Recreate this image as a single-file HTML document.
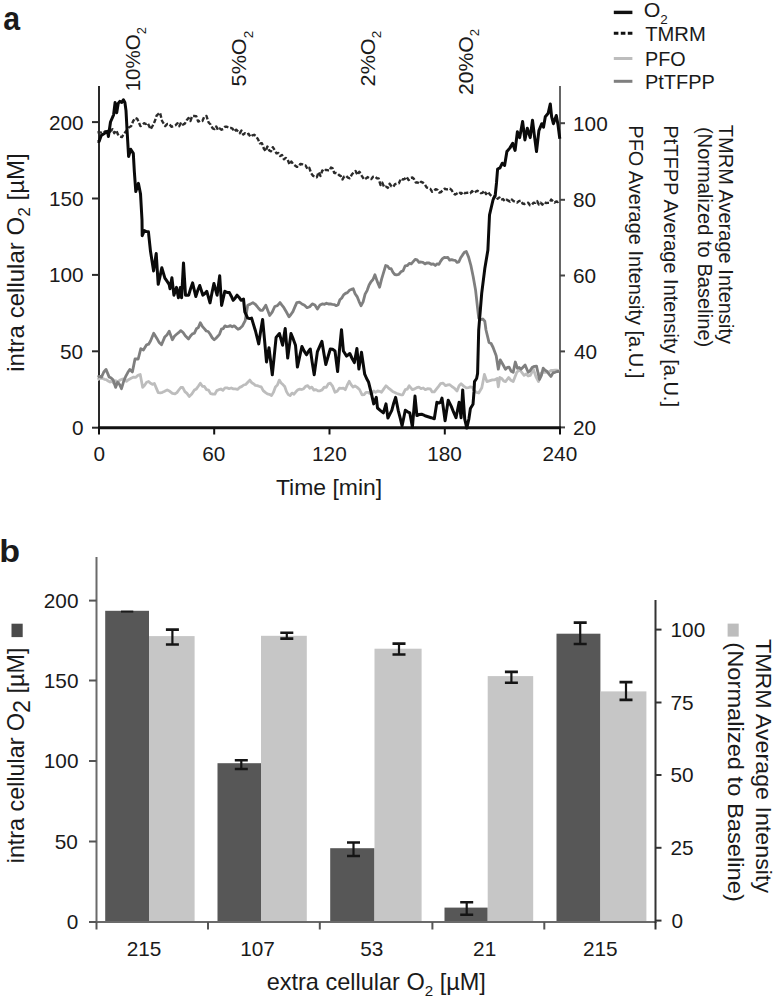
<!DOCTYPE html>
<html><head><meta charset="utf-8"><title>Figure</title>
<style>html,body{margin:0;padding:0;background:#fff;width:775px;height:998px;overflow:hidden}
text{font-family:'Liberation Sans',sans-serif}</style></head>
<body>
<svg width="775" height="998" viewBox="0 0 775 998" style="display:block;font-family:'Liberation Sans',sans-serif" fill="#1a1a1a">
<line x1="613.8" y1="12.4" x2="632.4" y2="12.4" stroke="#111" stroke-width="3.4"/>
<line x1="613.8" y1="33.3" x2="632.4" y2="33.3" stroke="#111" stroke-width="3" stroke-dasharray="4.6 2.4"/>
<line x1="613.8" y1="58.5" x2="632.4" y2="58.5" stroke="#bdbdbd" stroke-width="3"/>
<line x1="613.8" y1="81.3" x2="632.4" y2="81.3" stroke="#7f7f7f" stroke-width="3"/>
<line x1="99" y1="86" x2="99" y2="428" stroke="#2a2a2a" stroke-width="2"/>
<line x1="560" y1="86" x2="560" y2="428" stroke="#666" stroke-width="2"/>
<line x1="92" y1="427.7" x2="99" y2="427.7" stroke="#2a2a2a" stroke-width="2"/>
<line x1="92" y1="351.3" x2="99" y2="351.3" stroke="#2a2a2a" stroke-width="2"/>
<line x1="92" y1="274.9" x2="99" y2="274.9" stroke="#2a2a2a" stroke-width="2"/>
<line x1="92" y1="198.5" x2="99" y2="198.5" stroke="#2a2a2a" stroke-width="2"/>
<line x1="92" y1="122.1" x2="99" y2="122.1" stroke="#2a2a2a" stroke-width="2"/>
<line x1="560" y1="427.4" x2="565" y2="427.4" stroke="#444" stroke-width="2"/>
<line x1="560" y1="351.4" x2="565" y2="351.4" stroke="#444" stroke-width="2"/>
<line x1="560" y1="275.5" x2="565" y2="275.5" stroke="#444" stroke-width="2"/>
<line x1="560" y1="199.8" x2="565" y2="199.8" stroke="#444" stroke-width="2"/>
<line x1="560" y1="123.2" x2="565" y2="123.2" stroke="#444" stroke-width="2"/>
<line x1="99" y1="427" x2="99" y2="434.5" stroke="#111" stroke-width="2"/>
<line x1="214.2" y1="427" x2="214.2" y2="434.5" stroke="#111" stroke-width="2"/>
<line x1="329.5" y1="427" x2="329.5" y2="434.5" stroke="#111" stroke-width="2"/>
<line x1="444.8" y1="427" x2="444.8" y2="434.5" stroke="#111" stroke-width="2"/>
<line x1="560" y1="427" x2="560" y2="434.5" stroke="#111" stroke-width="2"/>
<line x1="98" y1="427.7" x2="561" y2="427.7" stroke="#111" stroke-width="3"/>
<path d="M97.6 379.7 L100.2 378.2 L102.7 378.4 L104.5 379.3 L106.3 379.6 L108.2 381.1 L110 382 L111.8 381 L113.6 383.2 L115.7 380.6 L117.9 382.1 L120 380 L122.1 379.2 L124.2 379 L126.4 381.4 L128.5 379.7 L131.1 378.3 L133.7 377.1 L135.9 377.3 L138 375.3 L140.2 374.5 L142.7 387.4 L144.6 385.3 L146.6 382.3 L148.6 381.5 L150.5 383.3 L152.4 384.4 L154.4 383.5 L156.3 388.1 L158.2 392.6 L160.4 392.9 L162.5 392.3 L164.7 391.3 L167.2 389.9 L169.8 391.3 L172.4 393.4 L175 393.9 L176.9 392.6 L178.8 390 L180.8 387.5 L182.7 387.4 L184.9 391.6 L187 393.4 L189.2 396.5 L191.8 394 L194.4 390 L196.4 388.9 L198.3 386.2 L200.3 383.2 L202.4 386.3 L204.4 386.5 L206.5 389.6 L208.6 390.2 L210.6 393.6 L212.7 394 L214.8 394.2 L216.8 390.6 L218.8 389.7 L220.9 389 L222.9 390.3 L225 387.8 L227.1 387.9 L229.2 388.7 L231.2 388 L233.3 388.9 L235.4 388.8 L237.5 389.4 L239.6 387.4 L241.6 386.6 L243.7 385 L245.7 384.5 L247.8 382.2 L249.8 380.1 L251.7 382.7 L253.5 383.7 L255.4 385.4 L257.2 385.6 L259.1 386.3 L261.2 386.8 L263.2 390.6 L265.3 392.4 L267.4 393.8 L269.4 394.3 L271.5 395.6 L273.4 392.4 L275.4 386.9 L277.4 385 L279.3 380.1 L281.1 382.9 L282.9 384.6 L284.7 386.5 L286.5 391.6 L288.3 394.6 L290.1 395.6 L292 393.1 L294 394.2 L295.9 391.8 L297.9 389.8 L299.8 389.1 L301.7 389.5 L303.7 388.7 L305.6 386.3 L307.7 385.6 L309.7 388.2 L311.8 387.1 L313.9 390.1 L315.9 389.6 L318 390.9 L320.1 390.8 L322.1 389.9 L324.2 387.1 L326.3 387.4 L328.3 383.9 L330.4 383.2 L332.7 386.4 L335 392.3 L337.2 391.3 L339.3 388.2 L341.5 388.4 L343.4 388.1 L345.3 389.7 L347.2 385.2 L349.2 381.3 L351.1 384.6 L353.1 387.1 L355 386 L356.9 387.1 L359.5 389.5 L362.1 394.8 L364.1 394.7 L366 392.3 L367.9 392.3 L369.8 393.5 L371.8 393.7 L373.7 391 L375.6 392.3 L377.6 391 L379.6 391.3 L381.5 392.3 L383.8 388.9 L386 385.8 L388.2 387.8 L390.5 389.7 L392.6 391.4 L394.8 392.5 L396.9 393.5 L398.8 394.1 L400.8 394.8 L402.7 394.8 L405.3 389.7 L407.2 389.2 L409.2 385.8 L412.4 389.7 L414.6 388.9 L416.7 387.7 L418.9 387.1 L421 388.7 L423.2 388 L425.3 389.7 L427.8 388.6 L430.2 388.8 L432.2 391.9 L434.3 391.9 L436.4 389.2 L438.4 386.6 L440.5 383.7 L443.1 383.1 L445.6 385.7 L447.7 384.9 L449.8 384.7 L451.9 386.5 L453.9 387.8 L457 390.9 L459.1 385.8 L461.1 383.7 L463.7 386.1 L466.3 387.8 L468.4 387.7 L470.4 386.8 L472.4 387.4 L474.5 390.9 L476.6 392.4 L478.7 393 L481.8 387.8 L484.4 374.4 L486.9 381.6 L490 380.6 L492.4 379.8 L494.8 379.8 L497.2 378.5 L498.3 386.8 L499.8 377.5 L501.7 378.4 L503.6 380.9 L505.5 381.6 L508.6 377.5 L510.9 380.3 L513.2 381.6 L516.8 372.3 L518.9 370.3 L521 371.3 L524.1 375.4 L526.2 374 L528.2 376 L530.3 375.4 L533.4 369.2 L536 376.9 L538.5 381.6 L540.6 373.4 L542.7 372.1 L544.9 372.3 L547 372 L549 371.8 L551 370.4 L553 370.5 L555.2 370.2 L557.3 370.2 L559.5 371" fill="none" stroke="#bdbdbd" stroke-width="2.8" stroke-linejoin="round"/>
<path d="M97.6 377.1 L99.5 376.3 L101.5 377.1 L103.8 372 L106 369.4 L109.2 377.1 L111.2 378.1 L113.1 379.7 L115.6 387.4 L117.6 382.3 L119.5 384.4 L121.5 388.7 L123.8 380.9 L126 375.8 L127.9 372.3 L129.8 369.4 L132.4 371.9 L135 359 L138.2 359 L140.8 348.7 L143.4 350 L146.6 344.8 L148.6 344.2 L150.5 341 L153.7 333.2 L156.9 338.4 L159.2 342.6 L161.5 344.8 L164.7 337.1 L166.9 335 L169.2 331.3 L172.4 339.7 L174.4 336.2 L176.3 334.5 L178.6 332.7 L180.8 330.6 L183.1 332.5 L185.3 335.8 L188.5 339 L190.5 336 L192.4 333.9 L194.4 333.2 L196.4 328.8 L198.3 327.6 L200.3 322.8 L202.3 326.3 L204.3 328.6 L206.3 331 L208.2 331.5 L210.2 334.3 L212.2 337.8 L214.2 339.8 L216 338.2 L217.8 336.3 L219.6 334.1 L221.4 329.2 L223.2 328.6 L225 325.9 L226.8 326.7 L228.7 326.4 L230.5 325.6 L232.3 326.8 L234.2 325.8 L236 327.4 L238 329.3 L240 328.4 L242.6 325.7 L245.2 320.6 L247.7 305.2 L250.3 304.1 L252.9 302.6 L255.5 304.5 L258.1 307.7 L260.4 310.3 L262.6 310.3 L265.8 305.2 L267.8 310.6 L269.7 315.5 L272.2 312.2 L274.8 306.5 L277.4 305.7 L280 302.6 L281.9 305.2 L283.9 307.7 L286.4 312 L289 316.8 L290.9 314.5 L292.9 311.6 L294.9 306.9 L296.8 302.6 L299.4 302.2 L301.9 303.9 L304.5 305.2 L307.1 307.7 L309.7 306.8 L312.3 303.9 L314.9 305 L317.4 309 L320 305 L322.6 303.9 L324.5 304.3 L326.5 303.2 L328.4 304 L330.3 303.9 L332.3 304.4 L334.2 304.6 L336.2 305.7 L338.1 304.8 L339.9 299.8 L341.8 298 L343.6 294.9 L345.5 293.4 L347.4 292.6 L349.4 290.3 L351.3 289.4 L353.2 288.7 L355.1 293.7 L357.1 296.6 L359.1 301.6 L361 305.7 L363.1 301.9 L365.1 294.2 L367.2 290.3 L369.1 285 L371 281.7 L373 279.5 L374.9 274.8 L377.2 281.4 L379.6 287.2 L381.6 279.1 L383.7 272.2 L385.7 265.5 L387.5 266 L389.3 268.5 L391.1 268.7 L393 272.3 L394.8 274.5 L396.6 274.8 L398.8 274.4 L400.9 271.8 L403.1 270.7 L405.2 265.8 L407.4 265.5 L409.3 263.3 L411.3 263.9 L413.2 261.7 L415.2 259.3 L417.1 259.8 L419 262.3 L421 262 L422.9 262.4 L425 263.9 L427 262.8 L429.1 263 L431.2 264.3 L433.2 263.8 L435.3 265.5 L437.1 263.8 L438.9 264.4 L440.7 261.1 L442.5 258.7 L444.3 257.5 L446.1 257.7 L447.9 257.4 L449.7 260.2 L451.6 259.6 L453.4 260.2 L455.2 260.3 L457 262.4 L458.9 261.8 L460.7 257.8 L462.6 254.9 L464.4 252.3 L466.3 251.5 L468.6 257.1 L470.9 265.5 L473.2 276.8 L475.6 290.3 L478.7 318.1 L480.7 319.7 L482.8 319 L484.8 321.2 L486 330 L489 342.4 L491.1 343.5 L493.1 347.5 L496.2 355.8 L498.3 369.2 L500.3 359.9 L502.9 364.5 L505.5 369.2 L507.3 367.4 L509.1 367.2 L511.2 371.3 L513.2 372.3 L515.3 362 L517.4 368.2 L519.2 367.5 L521 369.2 L523 367.2 L525.1 365.1 L528.2 372.3 L530.2 370.6 L532.3 367.2 L534.4 366.4 L536.5 366.1 L539.5 379.5 L541.4 375.4 L543.2 368.2 L545.1 370.2 L547 371.5 L549 374.1 L550.9 376.5 L553 372.9 L555 372.3 L557.2 371.5 L559.5 371.3" fill="none" stroke="#7f7f7f" stroke-width="2.8" stroke-linejoin="round"/>
<path d="M97.5 132.3 L99.1 132.3 L101.2 132.6 L103.2 132.9 L105.3 131.3 L107.1 132.3 L108.9 132.6 L110.7 131 L112.5 129.2 L114.3 133.2 L116.2 130.4 L118 134.5 L119.8 136.5 L121.9 137.1 L123.9 133.8 L126 131.3 L129.1 127.2 L131.1 126.2 L133.2 121 L135.2 117.9 L137.3 118.9 L140.4 126.1 L142.2 125.2 L144 123.2 L145.8 124 L147.6 123 L150.7 129.2 L152.8 125.5 L154.9 121 L156.6 115.7 L158.3 114 L160 112.7 L162.1 121 L165.2 126.1 L167.2 124 L169.3 124.1 L171.4 126.7 L173.4 126.3 L175.5 125.3 L177.4 123.2 L179.2 126.2 L181.1 122.5 L182.9 124.6 L184.8 123.7 L186.7 120.2 L188.5 118 L190.4 121 L192.2 116 L194.1 116 L196.2 116.1 L198.2 121.6 L200.3 120.6 L202.4 121 L204.4 116.4 L206.5 116 L208.6 122.5 L210.6 124.5 L212.7 128.4 L214.5 129.1 L216.2 126.4 L218 130 L219.7 128.5 L221.5 129.7 L223.2 129.1 L225 126.8 L226.9 126.7 L228.8 128 L230.6 127.9 L232.5 128.7 L234.4 131.5 L236.2 129.7 L237.9 131.3 L239.7 133.3 L241.4 130.6 L243.2 134.6 L244.9 133.2 L246.7 134.5 L248.6 133.8 L250.4 136.8 L252.3 135.4 L254.1 134.8 L256 136.1 L257.9 139.1 L259.9 143.4 L261.9 143.1 L263.8 148.5 L265.6 151.2 L267.4 146.5 L269.2 150.5 L271 151.3 L272.8 147.2 L274.6 150 L276.5 153.4 L278.3 153 L280.2 156 L282 154.9 L283.9 159.3 L285.8 157.9 L287.6 159.5 L289.5 164.5 L291.3 161.5 L293.2 164 L295 165.5 L296.7 166.7 L298.5 166.9 L300.3 164 L302.1 164.3 L303.8 165.4 L305.6 165.5 L307.5 169.1 L309.3 167.8 L311.2 173.3 L313 175.8 L314.9 176.4 L316.8 177.3 L318.6 172.1 L320.5 175.9 L322.3 170.5 L324.2 171.7 L325.9 169.8 L327.6 170.2 L329.3 170.7 L331 167.5 L332.6 168.4 L334.3 173.1 L335.9 172.9 L337.5 173.4 L339.1 175.1 L340.8 176.1 L342.4 179.5 L344.3 176.4 L346.1 175.8 L348 177.7 L349.8 178.3 L351.7 174.8 L353.6 172.3 L355.5 170.9 L357.5 175 L359.4 171.7 L361.8 175.8 L364.1 179.5 L365.9 178.5 L367.7 177.1 L369.5 178.4 L371.3 179.1 L373.1 176.7 L374.9 176.4 L376.8 178.2 L378.6 178.4 L380.5 185 L382.3 182.6 L384.2 187.2 L386 186.6 L387.8 187.9 L389.6 183.7 L391.4 186.3 L393.2 187 L395 184.1 L396.9 183.6 L398.9 183.3 L400.9 178.6 L402.8 179.5 L404.7 178.8 L406.6 176.9 L408.6 180.1 L410.5 177.9 L412.3 177.5 L414 179 L415.8 182.5 L417.6 182.4 L419.4 183.7 L421.1 181.7 L422.9 182.6 L424.8 184.4 L426.6 187.5 L428.5 188 L430.3 188.9 L432.2 191.8 L434 190.9 L435.7 189.1 L437.5 189.8 L439.3 192.6 L441.1 192 L442.8 189.8 L444.6 188.7 L446.4 189.4 L448.1 189.2 L449.9 188.6 L451.7 190.2 L453.5 193.5 L455.2 194.6 L457 193.4 L459.1 192.1 L461.1 193.8 L463.2 191.8 L465 193.2 L466.7 192.8 L468.5 192.7 L470.3 193.2 L472.1 191.1 L473.8 192.9 L475.6 191.8 L477.4 190.7 L479.1 191.7 L480.9 193.2 L482.6 192.8 L484.4 190.7 L486.1 194.1 L487.9 191.8 L490 194.6 L492 196.4 L494.1 198 L495.9 195.7 L497.6 198.7 L499.4 197.4 L501.2 199.8 L503 199 L504.7 201 L506.5 199.6 L508.3 200.6 L510 201.6 L511.8 199.5 L513.6 201.2 L515.4 201.9 L517.1 202.6 L518.9 201.1 L520.8 200.6 L522.6 203.5 L524.5 204 L526.3 203.4 L528.2 202.7 L530 205.2 L531.7 205.1 L533.5 202.8 L535.3 202.9 L537.1 201 L538.8 204.5 L540.6 202.7 L542.4 204.7 L544.1 202.1 L545.9 203 L547.7 202.9 L549.5 202.8 L551.2 199.6 L553 201.1 L554.6 202.6 L556.2 201.5 L557.9 202 L559.5 201.1" fill="none" stroke="#2b2b2b" stroke-width="2.4" stroke-dasharray="4.5 2" stroke-linejoin="round"/>
<path d="M97.5 141.6 L99.1 141.6 L101.2 135.4 L104.3 133.4 L107.4 131.3 L108.4 136.5 L110.5 122 L113.6 114.8 L115.1 102.4 L116.7 112.7 L118.2 103.4 L119.8 101.4 L121.8 102.4 L123.4 99.8 L124.9 102.4 L126 110.6 L127 129.2 L128.6 156.5 L130.7 149.3 L133.3 153.4 L134.3 171 L135.8 191.6 L138.4 183.4 L140.5 193.7 L142 220 L142.2 235.8 L144.3 230.6 L146.4 231.6 L148.4 231.7 L150.5 251.3 L153.6 270.9 L156.2 253.4 L158.2 284.3 L160 276.6 L161.8 267.8 L164.9 278.1 L167 281.2 L169.1 284.3 L170 288.7 L171.9 277.7 L173.9 295.2 L176.5 287.4 L178.4 297.7 L180.3 287.4 L181.6 297.7 L183.5 262.9 L185.5 295.2 L188.7 295.2 L190.6 288.7 L192.6 282.9 L195.8 296.5 L197.8 290.2 L199.7 285.5 L202.9 295.2 L204.9 293.5 L206.8 291.3 L210 302.9 L211.9 293.2 L213.9 283.5 L217.1 295.2 L219.7 275.8 L221.6 305.5 L224.8 291.3 L227.1 292.4 L229.4 292.6 L231.3 296.2 L233.2 300.3 L235.1 298.2 L237.1 295.2 L239.1 297.4 L241 300.3 L243.5 299 L244.8 311.9 L247.7 318.1 L249.6 318.6 L251.6 318.1 L253.6 324.9 L255.5 331 L258.7 343.9 L260.6 331.5 L262.6 319.4 L264.6 340.7 L266.5 361.9 L269 347.7 L272.3 374.8 L274.2 356.4 L276.1 337.4 L279.4 333.5 L282.6 345.2 L285.2 328.4 L287.7 358.1 L291 333.5 L293.2 338.9 L295.5 345.2 L297.4 367.1 L299.6 356.9 L301.9 346.5 L304.2 351.1 L306.5 354.8 L308.4 351.5 L310.3 349 L312.2 362.4 L314.2 374.8 L317.4 351.6 L319.6 346.7 L321.9 341.3 L323.9 353.5 L325.8 364.5 L328.1 356.5 L330.3 349 L332.6 349.3 L335 351 L337.6 371.6 L339.5 349.7 L341.5 329.7 L343.4 351 L346.6 356.1 L349.8 353.5 L352.1 358.5 L354.4 362.6 L356.9 348.4 L358.9 369 L361.5 352.3 L364.7 374.2 L366.6 378.5 L368.5 381.9 L371.1 392.3 L373.7 403.9 L376.3 397.4 L377.5 408 L380.2 410.3 L383.4 412.9 L386 403.9 L387.9 418.1 L389.9 414.1 L391.8 410.3 L393.7 403.2 L395.6 397.4 L398.2 410.3 L400.1 417.6 L402.1 425.8 L405.3 410.3 L407.6 411.8 L409.8 412.9 L412.4 427.1 L415 396.1 L416.9 415.5 L419.2 414.5 L421.5 414.2 L425 415.7 L428.1 416.7 L431.2 417.7 L434.3 418.8 L436.9 402.3 L438.7 403 L440.5 402.3 L442 398.1 L445.1 420.8 L448.2 400.2 L451.3 406.4 L453.6 412.2 L456 417.7 L459.1 402.3 L461.1 417.7 L462.7 389.9 L464.7 418.8 L466.8 428.1 L468.9 418.8 L470.4 408.5 L473 404.3 L474 391.9 L474.5 381.6 L476.6 378.5 L477.6 373.4 L478.7 330 L481.7 293.4 L484.8 268.6 L487.9 250 L489.5 215 L493 200 L495.3 194.5 L496.5 182.9 L497.6 169 L500 167.8 L502.3 163.2 L504.6 165.5 L506.9 151.5 L509.8 148.1 L512.7 143.4 L515.1 150.4 L517.4 131.8 L519.7 137.6 L522.6 121.4 L524.9 139.9 L527.3 128.3 L530.2 137.6 L532.5 120.2 L534.2 134.1 L536.5 151.5 L538.9 130.6 L541.8 123.7 L543.5 127.2 L545.3 116.7 L548.2 113.2 L550.3 103.9 L551.6 116.7 L553.4 123.7 L556.3 115.5 L558 124.8 L559.8 138.8" fill="none" stroke="#0a0a0a" stroke-width="3" stroke-linejoin="round"/>
<rect x="105.2" y="610.8" width="43.8" height="311.2" fill="#575757"/>
<rect x="149" y="636.1" width="45.6" height="285.9" fill="#c6c6c6"/>
<rect x="217.5" y="763.2" width="43.5" height="158.8" fill="#575757"/>
<rect x="261" y="635.8" width="45.8" height="286.2" fill="#c6c6c6"/>
<rect x="330.2" y="848.2" width="44.3" height="73.8" fill="#575757"/>
<rect x="374.5" y="648.7" width="47.1" height="273.3" fill="#c6c6c6"/>
<rect x="444.5" y="907.6" width="43.2" height="14.4" fill="#575757"/>
<rect x="487.7" y="676.1" width="45.5" height="245.9" fill="#c6c6c6"/>
<rect x="556.5" y="633.7" width="43.9" height="288.3" fill="#575757"/>
<rect x="600.4" y="691.4" width="46" height="230.6" fill="#c6c6c6"/>
<line x1="121" y1="611.6" x2="133.3" y2="611.6" stroke="#1a1a1a" stroke-width="2"/>
<path d="M165.9 629.6 H178.9 M165.9 644.5 H178.9" stroke="#151515" stroke-width="2.6" fill="none"/><path d="M172.4 629.6 V644.5" stroke="#151515" stroke-width="2.2"/>
<path d="M234.8 760.3 H247.8 M234.8 769 H247.8" stroke="#151515" stroke-width="2.6" fill="none"/><path d="M241.3 760.3 V769" stroke="#151515" stroke-width="2.2"/>
<path d="M280.3 632.8 H293.3 M280.3 638.6 H293.3" stroke="#151515" stroke-width="2.6" fill="none"/><path d="M286.8 632.8 V638.6" stroke="#151515" stroke-width="2.2"/>
<path d="M347 842.5 H360 M347 856 H360" stroke="#151515" stroke-width="2.6" fill="none"/><path d="M353.5 842.5 V856" stroke="#151515" stroke-width="2.2"/>
<path d="M392.5 643.6 H405.5 M392.5 654.5 H405.5" stroke="#151515" stroke-width="2.6" fill="none"/><path d="M399 643.6 V654.5" stroke="#151515" stroke-width="2.2"/>
<path d="M460.2 902.2 H473.2 M460.2 914.7 H473.2" stroke="#151515" stroke-width="2.6" fill="none"/><path d="M466.7 902.2 V914.7" stroke="#151515" stroke-width="2.2"/>
<path d="M504.9 671.9 H517.9 M504.9 682.7 H517.9" stroke="#151515" stroke-width="2.6" fill="none"/><path d="M511.4 671.9 V682.7" stroke="#151515" stroke-width="2.2"/>
<path d="M573.7 622.6 H586.7 M573.7 644 H586.7" stroke="#151515" stroke-width="2.6" fill="none"/><path d="M580.2 622.6 V644" stroke="#151515" stroke-width="2.2"/>
<path d="M619.5 682.1 H632.5 M619.5 699.9 H632.5" stroke="#151515" stroke-width="2.6" fill="none"/><path d="M626 682.1 V699.9" stroke="#151515" stroke-width="2.2"/>
<line x1="96.5" y1="557" x2="96.5" y2="923" stroke="#6a6a6a" stroke-width="2"/>
<line x1="96" y1="922" x2="656" y2="922" stroke="#6a6a6a" stroke-width="2"/>
<line x1="655.5" y1="600" x2="655.5" y2="923" stroke="#333" stroke-width="2"/>
<line x1="89" y1="922" x2="96.5" y2="922" stroke="#555" stroke-width="2"/>
<line x1="89" y1="841.5" x2="96.5" y2="841.5" stroke="#555" stroke-width="2"/>
<line x1="89" y1="761" x2="96.5" y2="761" stroke="#555" stroke-width="2"/>
<line x1="89" y1="680.5" x2="96.5" y2="680.5" stroke="#555" stroke-width="2"/>
<line x1="89" y1="600.6" x2="96.5" y2="600.6" stroke="#555" stroke-width="2"/>
<line x1="655.5" y1="920.6" x2="661.5" y2="920.6" stroke="#333" stroke-width="2"/>
<line x1="655.5" y1="847.8" x2="661.5" y2="847.8" stroke="#333" stroke-width="2"/>
<line x1="655.5" y1="775" x2="661.5" y2="775" stroke="#333" stroke-width="2"/>
<line x1="655.5" y1="702.5" x2="661.5" y2="702.5" stroke="#333" stroke-width="2"/>
<line x1="655.5" y1="629.6" x2="661.5" y2="629.6" stroke="#333" stroke-width="2"/>
<line x1="96.5" y1="922" x2="96.5" y2="929.5" stroke="#555" stroke-width="2"/>
<line x1="208" y1="922" x2="208" y2="929.5" stroke="#555" stroke-width="2"/>
<line x1="319.8" y1="922" x2="319.8" y2="929.5" stroke="#555" stroke-width="2"/>
<line x1="432.4" y1="922" x2="432.4" y2="929.5" stroke="#555" stroke-width="2"/>
<line x1="544.3" y1="922" x2="544.3" y2="929.5" stroke="#555" stroke-width="2"/>
<line x1="655.5" y1="922" x2="655.5" y2="929.5" stroke="#333" stroke-width="2"/>
<rect x="11.5" y="623.7" width="11.2" height="13.4" fill="#4a4a4a"/>
<rect x="727.6" y="623.6" width="11.1" height="13" fill="#bdbdbd"/>
<text transform="translate(3.2 30) scale(0.9167 1)" font-size="33" font-weight="bold">a</text>
<text transform="translate(139.6 91.3) rotate(-90) scale(0.9875 1)" font-size="20.8">10%O<tspan font-size="13" dy="6.5">2</tspan></text>
<text transform="translate(246.3 86.4) rotate(-90) scale(1.0404 1)" font-size="20.8">5%O<tspan font-size="13" dy="6.5">2</tspan></text>
<text transform="translate(374.8 86.4) rotate(-90) scale(1.0404 1)" font-size="20.8">2%O<tspan font-size="13" dy="6.5">2</tspan></text>
<text transform="translate(472.8 95.1) rotate(-90) scale(1.0203 1)" font-size="20.8">20%O<tspan font-size="13" dy="6.5">2</tspan></text>
<text transform="translate(643.7 16.9) scale(1.0364 1)" font-size="20.6">O<tspan font-size="13" dy="7">2</tspan></text>
<text transform="translate(645.2 41.2) scale(0.9800 1)" font-size="20.6">TMRM</text>
<text transform="translate(645 65.6) scale(0.9610 1)" font-size="20.6">PFO</text>
<text transform="translate(645 88.8) scale(0.9686 1)" font-size="20.6">PtTFPP</text>
<text transform="translate(71.9 435.1)" font-size="20.8">0</text>
<text transform="translate(59.9 358.7)" font-size="20.8">50</text>
<text transform="translate(48.9 282.3)" font-size="20.8">100</text>
<text transform="translate(48.9 205.9)" font-size="20.8">150</text>
<text transform="translate(48.9 129.5)" font-size="20.8">200</text>
<text transform="translate(573 434.8)" font-size="20.8">20</text>
<text transform="translate(574 358.8)" font-size="20.8">40</text>
<text transform="translate(573 282.9)" font-size="20.8">60</text>
<text transform="translate(573 207.2)" font-size="20.8">80</text>
<text transform="translate(573 130.6)" font-size="20.8">100</text>
<text transform="translate(93.5 461.2)" font-size="20.8">0</text>
<text transform="translate(202.2 461.2)" font-size="20.8">60</text>
<text transform="translate(312 461.2)" font-size="20.8">120</text>
<text transform="translate(427.2 461.2)" font-size="20.8">180</text>
<text transform="translate(542.5 461.2)" font-size="20.8">240</text>
<text transform="translate(275.9 494.6) scale(1.0077 1)" font-size="22.8">Time [min]</text>
<text transform="translate(23.8 371.8) rotate(-90) scale(1.0236 1)" font-size="23.5">intra cellular O<tspan font-size="17" dy="6.5">2</tspan><tspan dy="-6.5"> [µM]</tspan></text>
<text transform="translate(718.5 124.8) rotate(90) scale(0.9738 1)" font-size="20.6">TMRM Average Intensity</text>
<text transform="translate(697.8 126.9) rotate(90) scale(0.9781 1)" font-size="20.6">(Normalized to Baseline)</text>
<text transform="translate(664.4 125.3) rotate(90) scale(0.9715 1)" font-size="20.6">PtTFPP Average Intensity [a.U.]</text>
<text transform="translate(629.4 125.3) rotate(90) scale(0.9707 1)" font-size="20.6">PFO Average Intensity [a.U.]</text>
<text transform="translate(-0.8 562) scale(1.0647 1)" font-size="32" font-weight="bold">b</text>
<text transform="translate(66.8 929.4)" font-size="20.8">0</text>
<text transform="translate(54.8 848.9)" font-size="20.8">50</text>
<text transform="translate(43.8 768.4)" font-size="20.8">100</text>
<text transform="translate(43.8 687.9)" font-size="20.8">150</text>
<text transform="translate(43.8 608)" font-size="20.8">200</text>
<text transform="translate(671.5 928)" font-size="20.8">0</text>
<text transform="translate(670.5 855.2)" font-size="20.8">25</text>
<text transform="translate(670.5 782.4)" font-size="20.8">50</text>
<text transform="translate(670.5 709.9)" font-size="20.8">75</text>
<text transform="translate(670.5 637)" font-size="20.8">100</text>
<text transform="translate(126.7 956.3)" font-size="20.8">215</text>
<text transform="translate(240.2 956.3)" font-size="20.8">107</text>
<text transform="translate(360.2 956.3)" font-size="20.8">53</text>
<text transform="translate(473.1 956.3)" font-size="20.8">21</text>
<text transform="translate(582.9 956.3)" font-size="20.8">215</text>
<text transform="translate(266.7 989.6) scale(1.0131 1)" font-size="23.2">extra cellular O<tspan font-size="15" dy="6.5">2</tspan><tspan dy="-6.5"> [µM]</tspan></text>
<text transform="translate(23.8 863.3) rotate(-90) scale(1.0152 1)" font-size="23">intra cellular O<tspan font-size="23" dy="6">2</tspan><tspan dy="-6"> [µM]</tspan></text>
<text transform="translate(755.6 639) rotate(90) scale(1.0568 1)" font-size="22">TMRM Average Intensity</text>
<text transform="translate(728 642.3) rotate(90) scale(1.0778 1)" font-size="22">(Normalized to Baseline)</text>
</svg>
</body></html>
